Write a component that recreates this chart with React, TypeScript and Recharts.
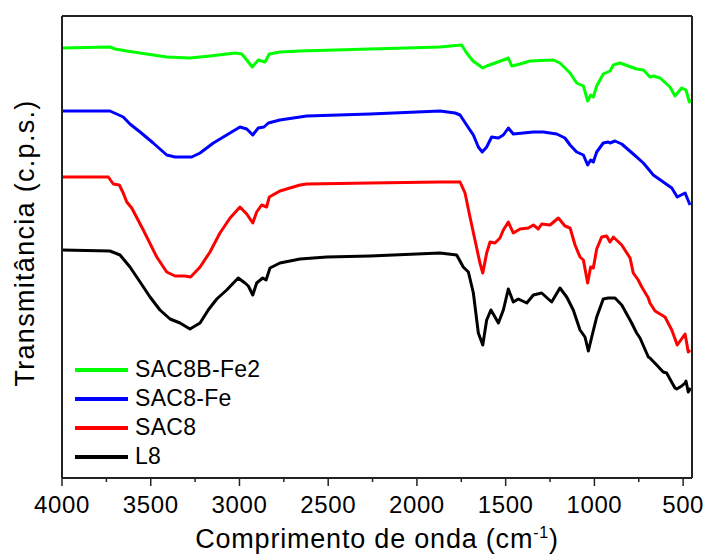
import { Line, LineChart, XAxis, YAxis } from "recharts";

// FTIR spectra, wavenumber (cm-1) vs transmittance (arbitrary, offset per sample)
const sac8bFe2: [number, number][] = [
  [4000, 430], [3730, 431], [3701, 429], [3635, 427], [3523, 424], [3410, 421],
  [3279, 420], [3166, 422], [3025, 425], [2987, 424], [2959, 418], [2928, 411],
  [2894, 418], [2856, 416], [2832, 424], [2772, 426], [2659, 427], [2264, 429],
  [1870, 431], [1748, 433], [1720, 425], [1684, 417], [1629, 410], [1607, 412],
  [1513, 418], [1485, 420], [1466, 412], [1419, 414], [1363, 417], [1231, 418],
  [1194, 415], [1137, 405], [1100, 395], [1062, 392], [1038, 377], [1021, 383],
  [1006, 381], [987, 392], [950, 404], [912, 407], [893, 413], [856, 415],
  [809, 412], [762, 409], [724, 408], [687, 401], [668, 402], [630, 400],
  [574, 391], [546, 382], [508, 390], [484, 388], [465, 376], [457, 379],
];

const sac8Fe: [number, number][] = [
  [4000, 367], [3730, 367], [3692, 364], [3655, 361], [3617, 354], [3560, 346],
  [3486, 335], [3410, 323], [3363, 321], [3269, 321], [3222, 325], [3147, 335],
  [3072, 343], [2997, 351], [2959, 349], [2925, 343], [2894, 350], [2862, 351],
  [2837, 355], [2772, 358], [2659, 361], [2621, 362], [2264, 364], [1870, 367],
  [1785, 365], [1757, 363], [1720, 353], [1682, 343], [1654, 331], [1632, 326],
  [1607, 331], [1579, 341], [1541, 340], [1513, 343], [1485, 350], [1457, 344],
  [1401, 345], [1344, 346], [1288, 346], [1212, 344], [1166, 340], [1137, 333],
  [1100, 326], [1062, 323], [1038, 313], [1021, 318], [1006, 316], [987, 326],
  [950, 335], [922, 336], [912, 335], [884, 337], [846, 334], [781, 324],
  [724, 315], [668, 303], [612, 296], [564, 290], [533, 281], [489, 285],
  [461, 273],
];

const sac8: [number, number][] = [
  [4000, 301], [3739, 301], [3711, 294], [3677, 293], [3655, 285], [3635, 276],
  [3607, 270], [3542, 248], [3466, 221], [3410, 206], [3363, 202], [3307, 202],
  [3275, 201], [3222, 211], [3166, 226], [3110, 245], [3053, 260], [2997, 271],
  [2959, 264], [2925, 255], [2903, 266], [2875, 273], [2847, 271], [2832, 281],
  [2772, 287], [2659, 293], [2621, 294], [2264, 295], [1870, 296], [1757, 296],
  [1729, 285], [1701, 261], [1673, 238], [1645, 215], [1629, 205], [1607, 225],
  [1588, 236], [1560, 235], [1532, 240], [1513, 248], [1485, 256], [1457, 245],
  [1419, 249], [1372, 250], [1344, 253], [1316, 249], [1297, 254], [1250, 253],
  [1203, 260], [1166, 252], [1137, 250], [1109, 233], [1081, 221], [1062, 218],
  [1038, 195], [1021, 211], [1006, 210], [987, 229], [959, 241], [931, 242],
  [912, 236], [893, 241], [846, 233], [799, 220], [781, 205], [753, 198],
  [733, 191], [696, 180], [687, 175], [658, 167], [602, 161], [564, 148],
  [533, 133], [489, 144], [471, 126], [461, 128],
];

const l8: [number, number][] = [
  [4000, 228], [3730, 227], [3673, 223], [3617, 211], [3560, 196], [3504, 181],
  [3448, 168], [3391, 159], [3335, 155], [3279, 149], [3222, 155], [3176, 168],
  [3128, 179], [3072, 188], [3007, 200], [2969, 195], [2950, 192], [2925, 183],
  [2903, 195], [2869, 200], [2850, 198], [2828, 210], [2772, 215], [2659, 219],
  [2508, 221], [2264, 222], [1870, 225], [1776, 223], [1739, 211], [1710, 206],
  [1682, 185], [1654, 145], [1629, 133], [1607, 158], [1583, 168], [1560, 161],
  [1541, 155], [1513, 168], [1485, 189], [1457, 176], [1429, 179], [1381, 175],
  [1344, 183], [1297, 185], [1241, 176], [1194, 190], [1156, 181], [1119, 168],
  [1081, 148], [1053, 141], [1034, 127], [1015, 141], [987, 161], [950, 179],
  [922, 180], [884, 180], [846, 173], [790, 155], [762, 145], [743, 140],
  [696, 121], [687, 120], [649, 113], [612, 106], [593, 105], [546, 90],
  [536, 89], [508, 92], [489, 95], [484, 97], [471, 86], [457, 90],
];

const majorTicks = [4000, 3500, 3000, 2500, 2000, 1500, 1000, 500];
const minorTicks = [3750, 3250, 2750, 2250, 1750, 1250, 750];

const series = [
  { name: "SAC8B-Fe2", color: "#00ff00", points: sac8bFe2 },
  { name: "SAC8-Fe", color: "#0000ff", points: sac8Fe },
  { name: "SAC8", color: "#ff0000", points: sac8 },
  { name: "L8", color: "#000000", points: l8 },
];

const font = "'Liberation Sans', Arial, sans-serif";
const axisColor = "#222";

function WavenumberTick({ x, y, payload }: any) {
  const major = majorTicks.includes(payload.value);
  return (
    <g>
      <line
        x1={x}
        x2={x}
        y1={y}
        y2={y + (major ? 8 : 4)}
        stroke={axisColor}
        strokeWidth={1.5}
      />
      {major && (
        <text
          x={x}
          y={y + 35}
          textAnchor="middle"
          fontSize={24}
          letterSpacing={0.6}
          fontFamily={font}
          fill="#000"
        >
          {payload.value}
        </text>
      )}
    </g>
  );
}

function SampleLegend() {
  return (
    <div
      style={{
        position: "absolute",
        left: 75,
        top: 355,
        fontFamily: font,
        fontSize: 23,
        letterSpacing: 0.3,
        color: "#000",
      }}
    >
      {series.map((s) => (
        <div
          key={s.name}
          style={{ display: "flex", alignItems: "center", height: 29 }}
        >
          <span
            style={{
              display: "inline-block",
              width: 53,
              height: 4,
              background: s.color,
              marginRight: 7,
            }}
          />
          <span>{s.name}</span>
        </div>
      ))}
    </div>
  );
}

export default function App() {
  return (
    <div
      style={{ position: "relative", width: 705, height: 554, background: "#fff" }}
    >
      <style>{"body{margin:0}"}</style>
      <LineChart
        width={705}
        height={554}
        margin={{ top: 15, right: 12, bottom: 0, left: 61 }}
      >
        <XAxis
          dataKey="wn"
          type="number"
          domain={[450, 4000]}
          reversed
          allowDataOverflow
          ticks={[...majorTicks, ...minorTicks]}
          interval={0}
          tickSize={0}
          tickMargin={0}
          tickLine={false}
          tick={<WavenumberTick />}
          height={76}
          axisLine={{ stroke: axisColor, strokeWidth: 2 }}
          label={{
            content: () => (
              <text
                x={377}
                y={548}
                textAnchor="middle"
                fontSize={27}
                letterSpacing={0.8}
                fontFamily={font}
                fill="#000"
              >
                Comprimento de onda (cm
                <tspan dy={-10} fontSize={16}>
                  -1
                </tspan>
                <tspan dy={10}>)</tspan>
              </text>
            ),
          }}
        />
        <XAxis
          xAxisId="top"
          orientation="top"
          type="number"
          domain={[450, 4000]}
          reversed
          height={1}
          tick={false}
          tickLine={false}
          axisLine={{ stroke: axisColor, strokeWidth: 2 }}
        />
        <YAxis
          type="number"
          domain={[0, 462]}
          width={1}
          tick={false}
          tickLine={false}
          axisLine={{ stroke: axisColor, strokeWidth: 2 }}
          label={{
            content: () => (
              <text
                x={34}
                y={243}
                transform="rotate(-90 34 243)"
                textAnchor="middle"
                fontSize={27}
                letterSpacing={1.3}
                fontFamily={font}
                fill="#000"
              >
                Transmitância (c.p.s.)
              </text>
            ),
          }}
        />
        <YAxis
          yAxisId="right"
          orientation="right"
          type="number"
          domain={[0, 462]}
          width={1}
          tick={false}
          tickLine={false}
          axisLine={{ stroke: axisColor, strokeWidth: 2 }}
        />
        {series.map((s) => (
          <Line
            key={s.name}
            name={s.name}
            data={s.points.map(([wn, t]) => ({ wn, t }))}
            dataKey="t"
            type="linear"
            stroke={s.color}
            strokeWidth={3}
            strokeLinejoin="round"
            dot={false}
            activeDot={false}
            isAnimationActive={false}
          />
        ))}
      </LineChart>
      <SampleLegend />
    </div>
  );
}
